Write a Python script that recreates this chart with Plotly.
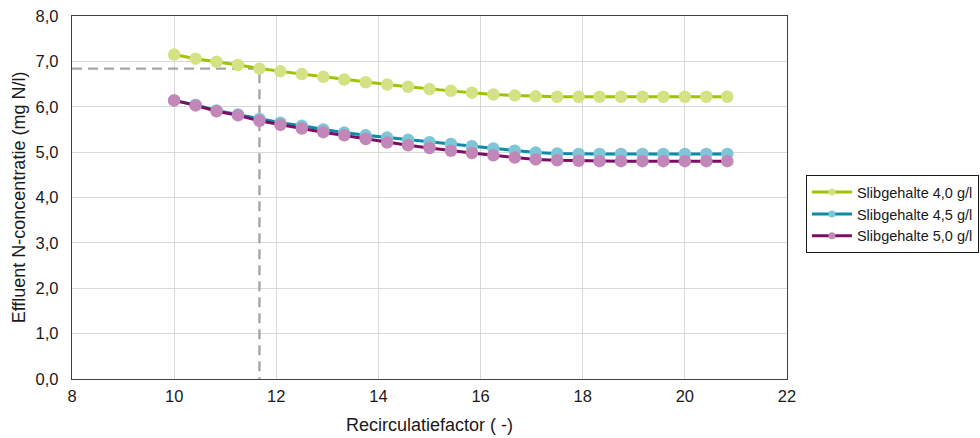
import plotly.graph_objects as go

recirculatie = [10.00, 10.42, 10.83, 11.25, 11.67, 12.08, 12.50, 12.92, 13.33, 13.75,
                14.17, 14.58, 15.00, 15.42, 15.83, 16.25, 16.67, 17.08, 17.50, 17.92,
                18.33, 18.75, 19.17, 19.58, 20.00, 20.42, 20.83]

slib_40 = [7.15, 7.06, 6.99, 6.92, 6.84, 6.78, 6.72, 6.66, 6.60, 6.54,
           6.49, 6.44, 6.39, 6.35, 6.31, 6.27, 6.25, 6.23, 6.22, 6.22,
           6.22, 6.22, 6.22, 6.22, 6.22, 6.22, 6.22]
slib_45 = [6.14, 6.04, 5.92, 5.83, 5.73, 5.65, 5.58, 5.50, 5.43, 5.37,
           5.32, 5.27, 5.22, 5.18, 5.13, 5.08, 5.03, 4.99, 4.97, 4.96,
           4.96, 4.96, 4.96, 4.96, 4.96, 4.96, 4.96]
slib_50 = [6.14, 6.03, 5.90, 5.81, 5.69, 5.60, 5.52, 5.44, 5.37, 5.29,
           5.21, 5.15, 5.09, 5.03, 4.98, 4.93, 4.88, 4.84, 4.82, 4.81,
           4.80, 4.80, 4.80, 4.80, 4.80, 4.80, 4.80]

series_names = ["Slibgehalte 4,0 g/l", "Slibgehalte 4,5 g/l", "Slibgehalte 5,0 g/l"]
line_colors = ["#9CC400", "#0A8CA8", "#7A0E63"]
marker_colors = ["#D4E283", "#7EC5D8", "#C287B8"]

# reference (dashed) lines
ref_x = [8, 11.67, 11.67]
ref_y = [6.84, 6.84, 0]

x_ticks = [8, 10, 12, 14, 16, 18, 20, 22]
y_ticks = [0, 1, 2, 3, 4, 5, 6, 7, 8]
y_ticklabels = ["0,0", "1,0", "2,0", "3,0", "4,0", "5,0", "6,0", "7,0", "8,0"]

fig = go.Figure()

fig.add_trace(go.Scatter(x=ref_x, y=ref_y, mode="lines",
                         line=dict(color="#A6A6A6", width=2.4, dash="10px,6px"),
                         showlegend=False, hoverinfo="skip"))

for vals, name, lc, mc in zip([slib_40, slib_45, slib_50], series_names, line_colors, marker_colors):
    fig.add_trace(go.Scatter(
        x=recirculatie, y=vals, mode="lines+markers", name=name,
        line=dict(color=lc, width=3), legendgroup=name, showlegend=False,
        marker=dict(color=mc, size=12.5, line=dict(width=0)),
    ))
    # legend entry with small marker
    fig.add_trace(go.Scatter(
        x=[None], y=[None], mode="lines+markers", name=name, legendgroup=name,
        line=dict(color=lc, width=3),
        marker=dict(color=mc, size=7, line=dict(width=0)),
    ))

font_family = "Liberation Sans, Arial, sans-serif"

fig.update_layout(
    width=980, height=438, autosize=False,
    margin=dict(l=72, r=193, t=16, b=59),
    paper_bgcolor="white", plot_bgcolor="white",
    font=dict(family=font_family, size=16, color="#1a1a1a"),
    showlegend=True,
    legend=dict(
        xref="container", yref="container",
        x=0.8224, y=0.511, xanchor="left", yanchor="middle",
        bordercolor="#1a1a1a", borderwidth=1,
        font=dict(size=14.5, family=font_family, color="#1a1a1a"),
        tracegroupgap=0, itemwidth=40,
        bgcolor="white",
    ),
    xaxis=dict(
        range=[8, 22], tickvals=x_ticks, ticktext=[str(v) for v in x_ticks],
        showgrid=True, gridcolor="#D9D9D9", gridwidth=1,
        showline=True, linecolor="#404040", linewidth=1.3, mirror=True,
        ticks="", zeroline=False, automargin=False, ticklabelstandoff=2,
        title=dict(text="Recirculatiefactor ( -)", font=dict(size=18), standoff=14),
        tickfont=dict(size=16.5),
    ),
    yaxis=dict(
        range=[0, 8], tickvals=y_ticks, ticktext=y_ticklabels,
        showgrid=True, gridcolor="#D9D9D9", gridwidth=1,
        showline=True, linecolor="#404040", linewidth=1.3, mirror=True,
        ticks="", zeroline=False, automargin=False, ticklabelstandoff=9,
        title=dict(text="Effluent N-concentratie (mg N/l)", font=dict(size=18), standoff=5),
        tickfont=dict(size=16.5),
    ),
)

fig.write_html(
    "out.html",
    config={"responsive": False, "displayModeBar": False},
    post_script="document.body.style.margin='0px';document.body.style.overflow='hidden';",
)
